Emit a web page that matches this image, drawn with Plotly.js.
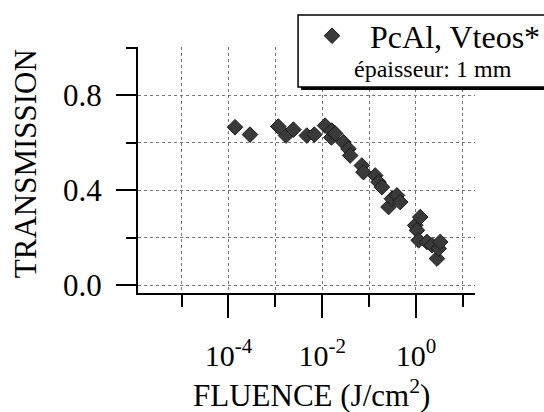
<!DOCTYPE html>
<html>
<head>
<meta charset="utf-8">
<script src="https://cdn.plot.ly/plotly-3.0.1.min.js"></script>
<style>html,body{margin:0;padding:0;background:#fff;}#chart{width:544px;height:412px;}</style>
</head>
<body>
<div id="chart"></div>
<script>
// Fluence (J/cm^2) and transmission
const fluence = [1.38e-4, 2.88e-4, 1.16e-3, 1.69e-3, 2.43e-3, 4.69e-3, 6.8e-3, 0.0115, 0.0157, 0.016, 0.0189,
  0.0284, 0.0363, 0.0395, 0.0702, 0.0759, 0.135, 0.159, 0.188, 0.26, 0.307, 0.393, 0.462,
  0.966, 1.05, 1.14, 1.236, 1.72, 2.2, 2.81, 3.04, 3.3];
const transmission = [0.665, 0.634, 0.668, 0.630, 0.655, 0.630, 0.634, 0.672, 0.622, 0.651, 0.639,
  0.602, 0.574, 0.546, 0.504, 0.476, 0.462, 0.434, 0.413, 0.329, 0.364, 0.378, 0.350,
  0.252, 0.231, 0.189, 0.287, 0.182, 0.168, 0.112, 0.154, 0.182];
const seriesName = "PcAl, Vteos*";
const legendNote = "épaisseur: 1 mm";
const xMajorTicks = [1e-4, 1e-2, 1];
const xMajorLabels = ["10<sup>-4</sup>", "10<sup>-2</sup>", "10<sup>0</sup>"];
const xMinorTicks = [1e-5, 1e-3, 1e-1, 10];
const yMajorTicks = [0, 0.4, 0.8];
const yMajorLabels = ["0.0", "0.4", "0.8"];
const yMinorTicks = [0.2, 0.6, 1.0];
const xTitle = "FLUENCE (J/cm<sup>2</sup>)";
const yTitle = "TRANSMISSION";

const FONT = "Liberation Serif, Times New Roman, serif";

const trace = {
  type: "scatter", mode: "markers",
  x: fluence, y: transmission, name: seriesName,
  marker: {symbol: "diamond", size: 12, color: "#3a3a3a", line: {color: "#1a1a1a", width: 1}}
};

const grid = {color: "#777", width: 1, dash: "dot"};

const layout = {
  width: 544, height: 412,
  margin: {l: 138, r: 69, t: 47, b: 119, autoexpand: false},
  paper_bgcolor: "#fff", plot_bgcolor: "#fff",
  font: {family: FONT, size: 30, color: "#000"},
  showlegend: true,
  legend: {x: 0.463, xanchor: "left", y: 1.045, yanchor: "middle", bgcolor: "rgba(0,0,0,0)",
    borderwidth: 0, itemwidth: 66, font: {family: FONT, size: 32, color: "#000"}},
  xaxis: {
    type: "log", range: [-5.93, 1.26],
    tickmode: "array", tickvals: xMajorTicks, ticktext: xMajorLabels,
    ticks: "outside", ticklen: 23, tickwidth: 2, tickcolor: "#000",
    ticklabelstandoff: 12,
    showline: true, linewidth: 2, linecolor: "#000",
    showgrid: true, gridcolor: grid.color, gridwidth: grid.width, griddash: grid.dash,
    zeroline: false,
    tickfont: {family: FONT, size: 30, color: "#000"},
    minor: {tickmode: "array", tickvals: xMinorTicks, ticks: "outside", ticklen: 12, tickwidth: 2, tickcolor: "#000",
      showgrid: true, gridcolor: grid.color, gridwidth: grid.width, griddash: grid.dash}
  },
  yaxis: {
    range: [-0.033, 1.003],
    tickmode: "array", tickvals: yMajorTicks, ticktext: yMajorLabels,
    ticks: "outside", ticklen: 20, tickwidth: 2, tickcolor: "#000",
    ticklabelstandoff: 8,
    showline: true, linewidth: 2, linecolor: "#000",
    showgrid: true, gridcolor: grid.color, gridwidth: grid.width, griddash: grid.dash,
    zeroline: false,
    tickfont: {family: FONT, size: 31, color: "#000"},
    minor: {tickmode: "array", tickvals: yMinorTicks, ticks: "outside", ticklen: 10, tickwidth: 2, tickcolor: "#000",
      showgrid: true, gridcolor: grid.color, gridwidth: grid.width, griddash: grid.dash}
  },
  shapes: [
    {type: "rect", xref: "paper", yref: "paper", x0: 0.484, x1: 1.24, y0: 0.825, y1: 1.118,
      fillcolor: "#000", line: {width: 0}, layer: "above"},
    {type: "rect", xref: "paper", yref: "paper", x0: 0.475, x1: 1.23, y0: 0.837, y1: 1.130,
      fillcolor: "#fff", line: {color: "#000", width: 1.5}, layer: "above"}
  ],
  annotations: [
    {text: legendNote, xref: "paper", yref: "paper", x: 0.875, y: 0.91, xanchor: "center", yanchor: "middle",
      showarrow: false, font: {family: FONT, size: 24, color: "#000"}},
    {text: yTitle, xref: "paper", yref: "paper", x: -0.335, y: 0.524, xanchor: "center", yanchor: "middle",
      textangle: -90, showarrow: false, font: {family: FONT, size: 31, color: "#000"}},
    {text: xTitle, xref: "paper", yref: "paper", x: 0.516, y: -0.41, xanchor: "center", yanchor: "middle",
      showarrow: false, font: {family: FONT, size: 31, color: "#000"}}
  ]
};

Plotly.newPlot("chart", [trace], layout, {displayModeBar: false, staticPlot: true});
</script>
</body>
</html>
